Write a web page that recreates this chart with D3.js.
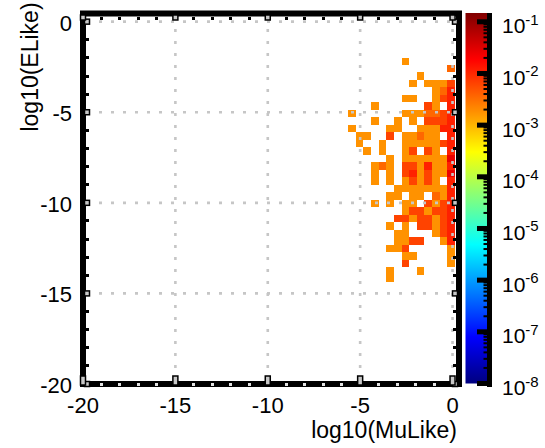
<!DOCTYPE html>
<html><head><meta charset="utf-8">
<script src="https://cdn.jsdelivr.net/npm/d3@7"></script>
<style>body{margin:0;background:#fff;} svg{display:block;font-family:"Liberation Sans",Arial,Helvetica,sans-serif;}</style>
</head><body>
<svg id="chart" width="545" height="448"></svg>
<script>
// ---- data ----
const xTicks = [-20, -15, -10, -5, 0];
const yTicks = [-20, -15, -10, -5, 0];
const xTickLabels = ["-20", "-15", "-10", "-5", "0"];
const yTickLabels = ["-20", "-15", "-10", "-5", "0"];
const xDomain = [-20, 0.35];
const yDomain = [-20, 0.45];
const cbarExponents = [-1, -2, -3, -4, -5, -6, -7, -8];
const colorLogDomain = [-8, -0.83];
const xTitle = "log10(MuLike)";
const yTitle = "log10(ELike)";
// 2D histogram bins (log10 units)
const binStartX = -5.65;
const binTopY = -1.98;
const binSize = 0.413;
// codes -> log10 density
const levelCodes = ["o", "d", "r", "x", "X"];
const levelValues = [-2.75, -2.45, -2.2, -1.95, -1.6];
const rows = [
".......o......",
".............d",
".........o....",
"........o.ooor",
"...........odx",
".......oo..orx",
"...o......ro.x",
"o......oooddrx",
"...o..o.o.rrrx",
"o....oo..oooxx",
".oo..r.oodoo.x",
".o..o..ooooorx",
"..o.o..or.ro.x",
".....o.ooooooX",
"...odo.rroxoox",
"...o.o.rxorooX",
"...o.o.ororo.x",
"......ooooooox",
".....oo.oo.dox",
"...o.o.oo.rorx",
".......orrorrx",
"......rrorrorx",
".....o.o.rrorx",
"......oo...orx",
"......oorr..ox",
".....oor.....o",
".......oo....o",
".......r.....o",
".....o...o....",
".....o........"
];

// ---- drawing ----
const svg = d3.select("#chart");
const x = d3.scaleLinear().domain(xDomain).range([83, 459]);
const y = d3.scaleLinear().domain(yDomain).range([384, 13.5]);
const cLin = d3.scaleLinear().domain(colorLogDomain).range([0, 1]).clamp(true);
function jet(t) {
  const c = v => Math.max(0, Math.min(1, v));
  return d3.rgb(255 * c(1.5 - Math.abs(4 * t - 3)), 255 * c(1.5 - Math.abs(4 * t - 2)), 255 * c(1.5 - Math.abs(4 * t - 1))).formatHex();
}

// cells
const cells = [];
rows.forEach((row, ri) => {
  [...row].forEach((ch, ci) => {
    const li = levelCodes.indexOf(ch);
    if (li >= 0) cells.push({ x0: binStartX + ci * binSize, y1: binTopY - ri * binSize, v: levelValues[li] });
  });
});
svg.append("g").selectAll("rect").data(cells).join("rect")
  .attr("x", d => Math.round(x(d.x0)))
  .attr("y", d => Math.round(y(d.y1)))
  .attr("width", d => Math.round(x(d.x0 + binSize)) - Math.round(x(d.x0)))
  .attr("height", d => Math.round(y(d.y1 - binSize)) - Math.round(y(d.y1)))
  .attr("fill", d => jet(cLin(d.v)))
  .attr("shape-rendering", "crispEdges");

// grid (on top of cells)
const grid = svg.append("g").attr("stroke", "#c6c6c6").attr("stroke-width", 2.6).attr("stroke-dasharray", "3,9");
grid.selectAll("line.v").data(xTicks.filter(t => t > -20)).join("line").attr("class", "v")
  .attr("x1", d => x(d)).attr("x2", d => x(d)).attr("y1", y(-20) - 4).attr("y2", y(yDomain[1]) + 4);
grid.selectAll("line.h").data(yTicks.filter(t => t > -20)).join("line").attr("class", "h")
  .attr("y1", d => y(d)).attr("y2", d => y(d)).attr("x1", x(-20) + 4).attr("x2", x(xDomain[1]) - 4);

// frame
svg.append("rect").attr("x", x(-20)).attr("y", y(yDomain[1]))
  .attr("width", x(xDomain[1]) - x(-20)).attr("height", y(-20) - y(yDomain[1]))
  .attr("fill", "none").attr("stroke", "#000").attr("stroke-width", 6);

// minor ticks
const minorX = d3.range(-19, 1).filter(v => v % 5 !== 0);
const minorY = d3.range(-19, 1).filter(v => v % 5 !== 0);
const tk = svg.append("g").attr("shape-rendering", "crispEdges");
tk.selectAll("rect.ml").data(minorY).join("rect").attr("class", "ml")
  .attr("x", x(-20) + 3).attr("y", d => y(d) - 1.5).attr("width", 3).attr("height", 3).attr("fill", "#000");
tk.selectAll("rect.mr").data(minorY).join("rect").attr("class", "mr")
  .attr("x", x(xDomain[1]) - 6).attr("y", d => y(d) - 1.5).attr("width", 3).attr("height", 3).attr("fill", "#000");
tk.selectAll("rect.mt").data(minorX).join("rect").attr("class", "mt")
  .attr("x", d => x(d) - 1.5).attr("y", y(yDomain[1]) + 3).attr("width", 3).attr("height", 3).attr("fill", "#000");
tk.selectAll("rect.mb").data(minorX).join("rect").attr("class", "mb")
  .attr("x", d => x(d) - 1.5).attr("y", y(-20) - 1).attr("width", 3).attr("height", 3).attr("fill", "#e4e4e4");
// major ticks
const maj = svg.append("g").attr("fill", "#c8c8c8").attr("stroke", "#000").attr("stroke-width", 1.5);
maj.selectAll("rect.Ml").data(yTicks).join("rect").attr("class", "Ml")
  .attr("x", x(-20) + 1.5).attr("y", d => y(d) - 2.5).attr("width", 5).attr("height", 5);
maj.selectAll("rect.Mr").data(yTicks).join("rect").attr("class", "Mr")
  .attr("x", x(xDomain[1]) - 6.5).attr("y", d => y(d) - 2.5).attr("width", 5).attr("height", 5);
maj.selectAll("rect.Mb").data(xTicks).join("rect").attr("class", "Mb")
  .attr("x", d => x(d) - 2.5).attr("y", y(-20) - 8).attr("width", 5).attr("height", 9);
maj.selectAll("rect.Mt").data(xTicks).join("rect").attr("class", "Mt")
  .attr("x", d => x(d) - 2.5).attr("y", y(yDomain[1]) + 1.5).attr("width", 5).attr("height", 5);

// tick labels
svg.append("g").selectAll("text").data(xTicks).join("text")
  .attr("x", d => x(d)).attr("y", 413).attr("text-anchor", "middle")
  .attr("font-size", 22).attr("fill", "#000").text((d, i) => xTickLabels[i]);
svg.append("g").selectAll("text").data(yTicks).join("text")
  .attr("x", 72).attr("y", d => y(d) + 9).attr("text-anchor", "end")
  .attr("font-size", 22).attr("fill", "#000").text((d, i) => yTickLabels[i]);

// axis titles
svg.append("text").attr("x", 384).attr("y", 438).attr("text-anchor", "middle")
  .attr("font-size", 23).text(xTitle);
svg.append("text").attr("transform", "translate(38,67) rotate(-90)").attr("text-anchor", "middle")
  .attr("font-size", 23).text(yTitle);

// colorbar
const cb = d3.scaleLog().domain([1e-8, Math.pow(10, colorLogDomain[1])]).range([383.5, 13]);
const defs = svg.append("defs");
const grad = defs.append("linearGradient").attr("id", "jetgrad").attr("x1", 0).attr("y1", 1).attr("x2", 0).attr("y2", 0);
grad.selectAll("stop").data(d3.range(0, 65)).join("stop")
  .attr("offset", d => d / 64).attr("stop-color", d => jet(d / 64));
const cbX = 465.5, cbW = 21.5;
svg.append("rect").attr("x", cbX).attr("y", cb.range()[1]).attr("width", cbW)
  .attr("height", cb.range()[0] - cb.range()[1]).attr("fill", "url(#jetgrad)");
svg.append("rect").attr("x", cbX + cbW).attr("y", cb.range()[1]).attr("width", 5)
  .attr("height", cb.range()[0] - cb.range()[1] + 3.5).attr("fill", "#000");
const cbMajor = cbarExponents.map(e => Math.pow(10, e));
const cbMinor = [];
d3.range(-8, 0).forEach(e => d3.range(2, 10).forEach(m => { const v = m * Math.pow(10, e); if (v < cb.domain()[1]) cbMinor.push(v); }));
svg.append("g").selectAll("rect").data(cbMinor).join("rect")
  .attr("x", cbX + cbW - 3.5).attr("y", d => cb(d) - 1).attr("width", 3.5).attr("height", 2).attr("fill", "#000");
svg.append("g").selectAll("rect").data(cbMajor).join("rect")
  .attr("x", cbX + cbW - 10).attr("y", d => cb(d) - 2.5).attr("width", 10).attr("height", 5).attr("fill", "#000");
const cbl = svg.append("g").selectAll("text").data(cbarExponents).join("text")
  .attr("x", 502).attr("y", d => cb(Math.pow(10, d)) + 11.5).attr("font-size", 21).attr("fill", "#000");
cbl.append("tspan").text("10");
cbl.append("tspan").attr("dy", -8.5).attr("font-size", 15).text(d => String(d));
</script>
</body></html>
